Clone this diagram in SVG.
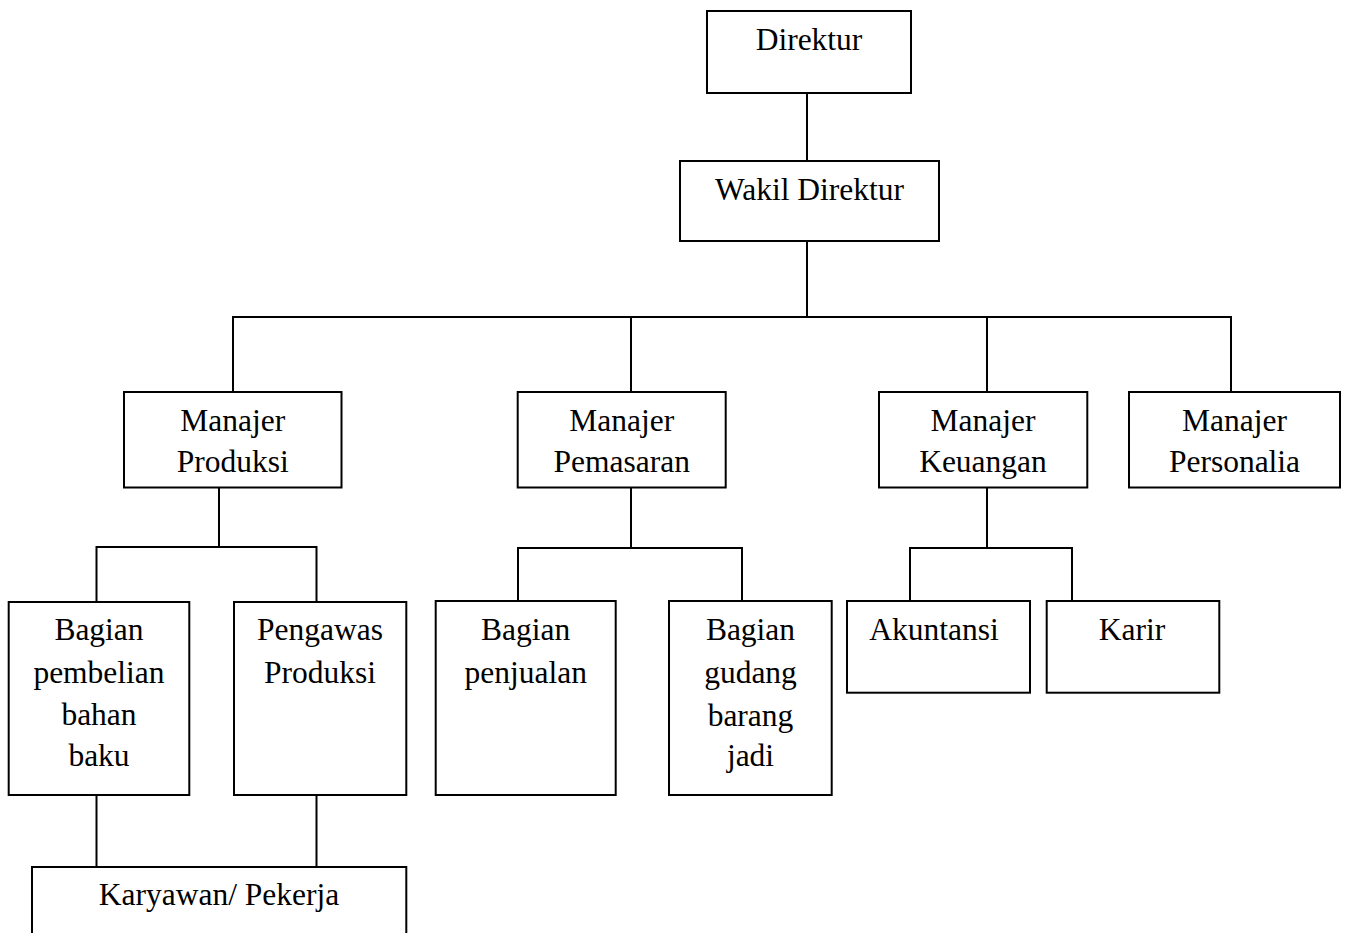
<svg xmlns="http://www.w3.org/2000/svg" width="1346" height="933" viewBox="0 0 1346 933">
<style>
.box{fill:#fff;stroke:#000;stroke-width:2}
.ln{fill:none;stroke:#000;stroke-width:2}
text{font-family:"Liberation Serif","Times New Roman",serif;font-size:31.5px;fill:#000;text-anchor:middle}
</style>
<rect width="1346" height="933" fill="#fff"/>
<g id="connectors">
<path class="ln" d="M807,93V161"/>
<path class="ln" d="M807,241V317"/>
<path class="ln" d="M233,392V317H1231V392"/>
<path class="ln" d="M631,317V392"/>
<path class="ln" d="M987,317V392"/>
<path class="ln" d="M219,487V547"/>
<path class="ln" d="M96.5,602V547H316.5V602"/>
<path class="ln" d="M631,487V548"/>
<path class="ln" d="M518,601V548H742V601"/>
<path class="ln" d="M987,487V548"/>
<path class="ln" d="M910,601V548H1072V601"/>
<path class="ln" d="M96.5,795V867"/>
<path class="ln" d="M316.5,795V867"/>
</g>
<g id="direktur"><rect class="box" x="707" y="11" width="204" height="82"/><text x="809" y="50">Direktur</text></g>
<g id="wakil"><rect class="box" x="680" y="161" width="259" height="80"/><text x="809.5" y="200">Wakil Direktur</text></g>
<g id="m-produksi"><rect class="box" x="124" y="392" width="217.5" height="95.5"/><text x="232.8" y="431">Manajer</text><text x="232.8" y="472">Produksi</text></g>
<g id="m-pemasaran"><rect class="box" x="517.7" y="392" width="208" height="95.5"/><text x="621.7" y="431">Manajer</text><text x="621.7" y="472">Pemasaran</text></g>
<g id="m-keuangan"><rect class="box" x="879" y="392" width="208.3" height="95.5"/><text x="983" y="431">Manajer</text><text x="983" y="472">Keuangan</text></g>
<g id="m-personalia"><rect class="box" x="1129" y="392" width="211" height="95.5"/><text x="1234.5" y="431">Manajer</text><text x="1234.5" y="472">Personalia</text></g>
<g id="pembelian"><rect class="box" x="8.7" y="602" width="180.6" height="193"/><text x="99" y="640">Bagian</text><text x="99" y="683">pembelian</text><text x="99" y="725">bahan</text><text x="99" y="766">baku</text></g>
<g id="pengawas"><rect class="box" x="234" y="602" width="172.3" height="193"/><text x="320" y="640">Pengawas</text><text x="320" y="683">Produksi</text></g>
<g id="penjualan"><rect class="box" x="435.7" y="601" width="180" height="194"/><text x="525.7" y="640">Bagian</text><text x="525.7" y="683">penjualan</text></g>
<g id="gudang"><rect class="box" x="669" y="601" width="162.7" height="194"/><text x="750.5" y="640">Bagian</text><text x="750.5" y="683">gudang</text><text x="750.5" y="726">barang</text><text x="750.5" y="766">jadi</text></g>
<g id="akuntansi"><rect class="box" x="847" y="601" width="183" height="91.7"/><text x="934" y="640">Akuntansi</text></g>
<g id="karir"><rect class="box" x="1046.7" y="601" width="172.6" height="91.7"/><text x="1132" y="640">Karir</text></g>
<g id="karyawan"><rect class="box" x="32" y="867" width="374.3" height="80"/><text x="219" y="905">Karyawan/ Pekerja</text></g>
</svg>
